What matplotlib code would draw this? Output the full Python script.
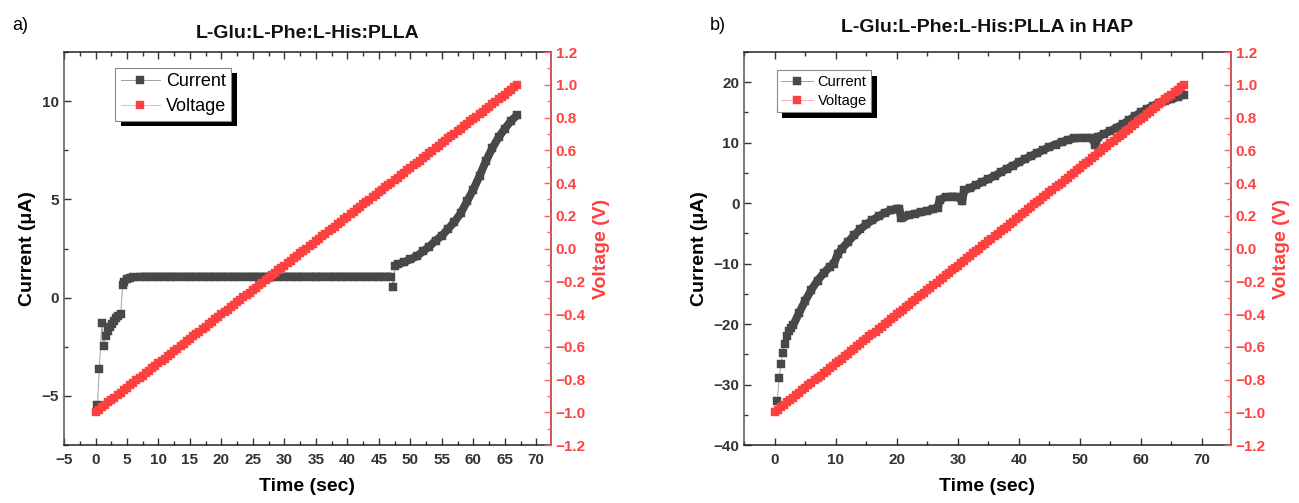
import matplotlib
matplotlib.use("Agg")
import matplotlib.pyplot as plt
from matplotlib import patheffects
from matplotlib.ticker import MultipleLocator

# voltage sweep shared by both measurements (s, V), read every 0.5 s
sweep_t = [0, 0.5, 1, 1.5, 2, 2.5, 3, 3.5, 4, 4.5, 5, 5.5, 6, 6.5, 7, 7.5, 8, 8.5,
           9, 9.5, 10, 10.5, 11, 11.5, 12, 12.5, 13, 13.5, 14, 14.5, 15, 15.5, 16,
           16.5, 17, 17.5, 18, 18.5, 19, 19.5, 20, 20.5, 21, 21.5, 22, 22.5, 23,
           23.5, 24, 24.5, 25, 25.5, 26, 26.5, 27, 27.5, 28, 28.5, 29, 29.5, 30,
           30.5, 31, 31.5, 32, 32.5, 33, 33.5, 34, 34.5, 35, 35.5, 36, 36.5, 37,
           37.5, 38, 38.5, 39, 39.5, 40, 40.5, 41, 41.5, 42, 42.5, 43, 43.5, 44,
           44.5, 45, 45.5, 46, 46.5, 47, 47.5, 48, 48.5, 49, 49.5, 50, 50.5, 51,
           51.5, 52, 52.5, 53, 53.5, 54, 54.5, 55, 55.5, 56, 56.5, 57, 57.5, 58,
           58.5, 59, 59.5, 60, 60.5, 61, 61.5, 62, 62.5, 63, 63.5, 64, 64.5, 65,
           65.5, 66, 66.5, 67]
sweep_v = [-1.000, -0.985, -0.970, -0.955, -0.940, -0.925, -0.910, -0.896, -0.881,
           -0.866, -0.851, -0.836, -0.821, -0.806, -0.791, -0.776, -0.761, -0.746,
           -0.731, -0.716, -0.701, -0.687, -0.672, -0.657, -0.642, -0.627, -0.612,
           -0.597, -0.582, -0.567, -0.552, -0.537, -0.522, -0.507, -0.493, -0.478,
           -0.463, -0.448, -0.433, -0.418, -0.403, -0.388, -0.373, -0.358, -0.343,
           -0.328, -0.313, -0.299, -0.284, -0.269, -0.254, -0.239, -0.224, -0.209,
           -0.194, -0.179, -0.164, -0.149, -0.134, -0.119, -0.104, -0.090, -0.075,
           -0.060, -0.045, -0.030, -0.015, 0.000, 0.015, 0.030, 0.045, 0.060,
           0.075, 0.090, 0.104, 0.119, 0.134, 0.149, 0.164, 0.179, 0.194, 0.209,
           0.224, 0.239, 0.254, 0.269, 0.284, 0.299, 0.313, 0.328, 0.343, 0.358,
           0.373, 0.388, 0.403, 0.418, 0.433, 0.448, 0.463, 0.478, 0.493, 0.507,
           0.522, 0.537, 0.552, 0.567, 0.582, 0.597, 0.612, 0.627, 0.642, 0.657,
           0.672, 0.687, 0.701, 0.716, 0.731, 0.746, 0.761, 0.776, 0.791, 0.806,
           0.821, 0.836, 0.851, 0.866, 0.881, 0.896, 0.910, 0.925, 0.940, 0.955,
           0.970, 0.985, 1.000]

# a) L-Glu:L-Phe:L-His:PLLA, current in uA
t_a = [0.3, 0.6, 1.0, 1.3, 1.6, 2.0, 2.3, 2.6, 3.0, 3.3, 3.6, 4.0, 4.3, 4.6, 5.0,
       5.5, 6, 7, 8, 9, 10, 11, 12, 13, 14, 15, 16, 17, 18, 19, 20, 21, 22, 23,
       24, 25, 26, 27, 28, 29, 30, 31, 32, 33, 34, 35, 36, 37, 38, 39, 40, 41,
       42, 43, 44, 45, 46, 47, 47.3, 47.6, 48, 49, 50, 51, 52, 53, 54, 55, 56,
       57, 58, 59, 60, 61, 62, 63, 64, 65, 66, 67]
i_a = [-5.45, -3.65, -1.3, -2.45, -1.95, -1.7, -1.5, -1.35, -1.2, -1.05, -0.95,
       -0.85, 0.62, 0.82, 0.93, 1.0, 1.04, 1.06, 1.07, 1.07, 1.07, 1.07, 1.07,
       1.07, 1.07, 1.07, 1.07, 1.07, 1.07, 1.07, 1.07, 1.07, 1.07, 1.07, 1.07,
       1.07, 1.07, 1.07, 1.07, 1.07, 1.07, 1.07, 1.07, 1.07, 1.07, 1.07, 1.07,
       1.07, 1.07, 1.07, 1.07, 1.07, 1.07, 1.07, 1.07, 1.07, 1.07, 1.07, 0.56,
       1.62, 1.7, 1.8, 1.95, 2.1, 2.35, 2.6, 2.9, 3.15, 3.5, 3.85, 4.3, 4.9, 5.5,
       6.2, 6.95, 7.6, 8.15, 8.6, 9.0, 9.3]

# b) L-Glu:L-Phe:L-His:PLLA in HAP, current in uA
t_b = [0.4, 0.7, 1.0, 1.3, 1.6, 2.0, 2.3, 2.7, 3, 4, 5, 6, 7, 8, 9, 9.7, 10.3,
       11, 12, 13, 14, 15, 16, 17, 18, 19, 20, 20.4, 20.7, 21, 22, 23, 24, 25,
       26, 26.7, 27, 28, 29, 30, 30.7, 31, 32, 33, 34, 35, 36, 37, 38, 39, 40,
       41, 42, 43, 44, 45, 46, 47, 48, 49, 50, 51, 52, 52.5, 53, 54, 55, 56, 57,
       58, 59, 60, 61, 62, 63, 64, 65, 66, 67]
i_b = [-32.8, -29.0, -26.6, -24.8, -23.3, -22.0, -21.2, -20.6, -20.2, -18.1,
       -16.1, -14.3, -12.8, -11.6, -10.5, -10.0, -8.4, -7.5, -6.4, -5.3, -4.3,
       -3.5, -2.8, -2.2, -1.6, -1.2, -0.9, -0.9, -2.5, -2.3, -2.0, -1.75, -1.5,
       -1.25, -1.0, -0.8, 0.6, 1.0, 1.1, 1.05, 0.3, 2.1, 2.5, 3.0, 3.5, 4.0,
       4.5, 5.1, 5.65, 6.2, 6.75, 7.3, 7.8, 8.3, 8.8, 9.3, 9.7, 10.1, 10.45,
       10.7, 10.8, 10.8, 10.8, 9.6, 11.0, 11.45, 11.95, 12.5, 13.05, 13.7, 14.4,
       15.0, 15.6, 16.1, 16.6, 16.9, 17.2, 17.55, 17.9]

GRAY = "#484848"
RED = "#ff4040"
RED_AXIS = "#ff6161"
FONT = ["Liberation Sans", "DejaVu Sans"]

plt.rcParams["font.family"] = FONT
plt.rcParams["font.weight"] = "bold"
plt.rcParams["axes.labelweight"] = "bold"


def panel(rect, t, cur, dense, xlim, xmaj, ylim, ymaj, title, title_y,
          legend_at, legend_fs, legend_sp):
    ax = fig.add_axes(rect)
    ax2 = ax.twinx()
    ax.plot(t, cur, color="#a0a0a0", lw=0.7, marker="s", ms=6.4,
            mfc=GRAY, mec=GRAY, mew=0.3, label="Current")
    # the instrument sampled densely, so the marker runs merge into a band
    for lo, hi in dense:
        ax.plot(t[lo:hi], cur[lo:hi], color=GRAY, lw=5.8,
                solid_capstyle="butt", solid_joinstyle="round")
    ax2.plot(sweep_t, sweep_v, color="#ffb0b0", lw=0.7, marker="s", ms=6.2,
             mfc=RED, mec=RED, mew=0.3, label="Voltage")
    ax.set_xlim(*xlim)
    ax.set_ylim(*ylim)
    ax2.set_ylim(-1.2, 1.2)

    ax.xaxis.set_major_locator(MultipleLocator(xmaj))
    ax.xaxis.set_minor_locator(MultipleLocator(xmaj / 2))
    ax.yaxis.set_major_locator(MultipleLocator(ymaj))
    ax.yaxis.set_minor_locator(MultipleLocator(ymaj / 2))
    ax2.yaxis.set_major_locator(MultipleLocator(0.2))
    ax2.yaxis.set_minor_locator(MultipleLocator(0.1))
    ax2.yaxis.set_major_formatter(lambda v, p: f"{v:.1f}".replace("-", "\u2212"))

    for a in (ax, ax2):
        for s in a.spines.values():
            s.set_linewidth(1.1)
    ax.spines["left"].set_color("#555555")
    ax.spines["bottom"].set_color("#222222")
    ax.spines["top"].set_color("#222222")
    ax2.spines["right"].set_color(RED_AXIS)
    ax2.spines["left"].set_visible(False)
    ax2.spines["top"].set_visible(False)
    ax2.spines["bottom"].set_visible(False)

    ax.tick_params(which="both", direction="in", top=True, right=False,
                   width=1.0, colors="#333333", labelsize=11)
    ax.tick_params(which="major", length=5)
    ax.tick_params(which="minor", length=3)
    ax.tick_params(axis="x", pad=6)
    ax2.tick_params(which="both", direction="in", width=1.0, colors=RED_AXIS,
                    labelcolor=RED, labelsize=11)
    ax2.tick_params(which="major", length=5)
    ax2.tick_params(which="minor", length=3)
    for lab in ax.get_xticklabels() + ax.get_yticklabels() + ax2.get_yticklabels():
        lab.set_fontweight("bold")

    ax.set_xlabel("Time (sec)", fontsize=14, labelpad=8)
    ax.set_ylabel("Current (\u03bcA)", fontsize=14, labelpad=4)
    ax2.set_ylabel("Voltage (V)", fontsize=14, color=RED, labelpad=5)

    x_mid = rect[0] + rect[2] / 2
    fig.text(x_mid, title_y, title, ha="center", va="center",
             fontsize=14, weight="bold", color="#111111")

    h1, l1 = ax.get_legend_handles_labels()
    h2, l2 = ax2.get_legend_handles_labels()
    leg = ax2.legend(h1 + h2, l1 + l2, loc="upper left", bbox_to_anchor=legend_at,
                     fancybox=False, framealpha=1, edgecolor="#888888",
                     handlelength=2.2, handletextpad=0.3, borderpad=0.3,
                     labelspacing=legend_sp, borderaxespad=0, markerscale=1.0,
                     prop={"weight": "normal", "size": legend_fs})
    leg.get_frame().set_linewidth(0.8)
    leg.get_frame().set_path_effects([
        patheffects.SimplePatchShadow(offset=(4, -4), shadow_rgbFace="black", alpha=1),
        patheffects.Normal()])
    return ax


fig = plt.figure(figsize=(12.99, 5.03), dpi=100)

panel([0.0493, 0.1153, 0.3747, 0.7813], t_a, i_a, [(12, 58), (59, None)],
      (-5, 72.3), 5, (-7.5, 12.5), 5,
      "L-Glu:L-Phe:L-His:PLLA", 1 - 34 / 503, (0.105, 0.96), 13, 0.45)
panel([0.5730, 0.1153, 0.3744, 0.7813], t_b, i_b, [(7, None)],
      (-5, 74.7), 10, (-40, 25), 10,
      "L-Glu:L-Phe:L-His:PLLA in HAP", 1 - 28 / 503, (0.067, 0.953), 10.5, 0.35)

fig.text(20 / 1299, 1 - 25 / 503, "a)", ha="center", va="center", fontsize=13,
         weight="normal")
fig.text(718 / 1299, 1 - 25 / 503, "b)", ha="center", va="center", fontsize=13,
         weight="normal")

fig.savefig("out.png", dpi=100)
